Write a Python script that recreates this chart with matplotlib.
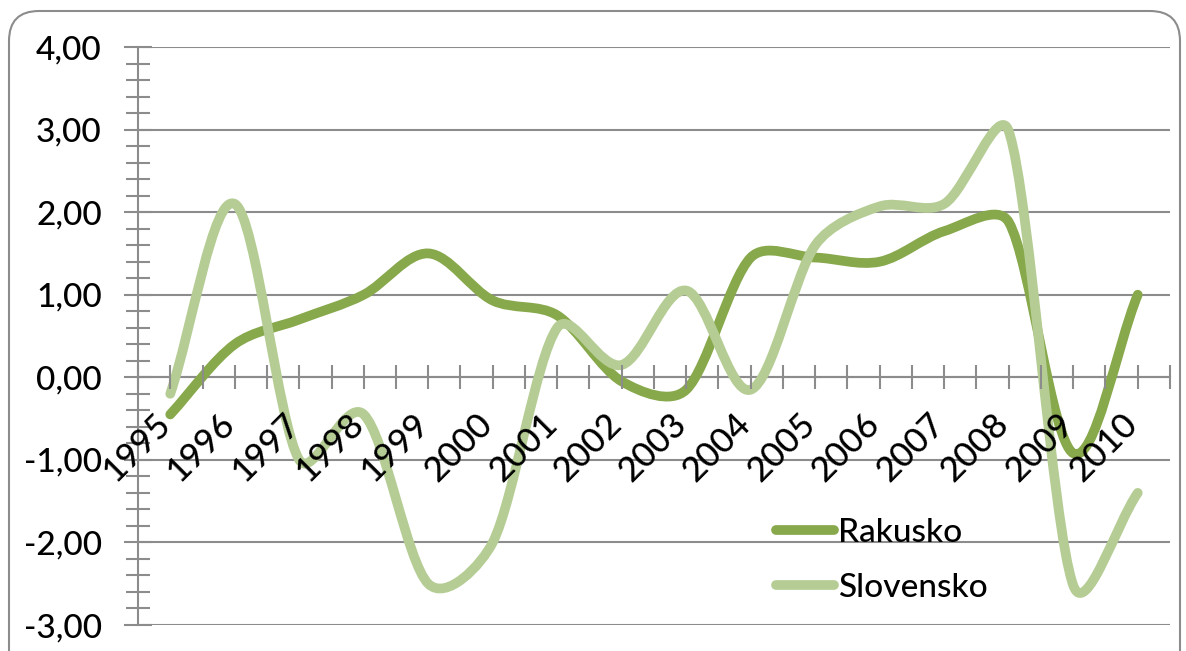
import matplotlib
matplotlib.use("Agg")
import matplotlib.pyplot as plt
import numpy as np
from matplotlib.path import Path
from matplotlib.patches import PathPatch, FancyBboxPatch
from matplotlib.lines import Line2D
from matplotlib.ticker import FuncFormatter, MultipleLocator
from matplotlib.transforms import ScaledTranslation

years = ["1995", "1996", "1997", "1998", "1999", "2000", "2001", "2002",
         "2003", "2004", "2005", "2006", "2007", "2008", "2009", "2010"]
rakusko = [-0.45, 0.40, 0.70, 1.00, 1.50, 0.93, 0.75, -0.05,
           -0.15, 1.45, 1.45, 1.40, 1.77, 1.88, -0.92, 1.00]
slovensko = [-0.20, 2.10, -1.00, -0.45, -2.50, -2.00, 0.60, 0.15,
             1.05, -0.15, 1.60, 2.07, 2.10, 2.98, -2.52, -1.40]

C_RAK = "#87a84b"
C_SLO = "#b5cd94"
GRID = "#8c8c8c"

plt.rcParams['font.family'] = ['Lato', 'DejaVu Sans']
plt.rcParams['font.weight'] = 500

W, H, DPI = 1186, 651, 100
L, R, T, B = 138, 1170, 47, 625
fig = plt.figure(figsize=(W / DPI, H / DPI), dpi=DPI)
ax = fig.add_axes([L / W, 1 - B / H, (R - L) / W, (B - T) / H])

# outer rounded frame
frame = FancyBboxPatch((0.09, -0.5), 11.71, 6.90,
                       boxstyle="round,pad=0,rounding_size=0.3",
                       transform=fig.dpi_scale_trans, fill=False,
                       edgecolor="#8c8c8c", linewidth=1.5, zorder=-10)
fig.patches.append(frame)

YMIN, YMAX = -3, 4
n = len(years)
SX = (R - L) / n              # pixels per category
SY = (B - T) / (YMAX - YMIN)  # pixels per unit


def smooth_path(xs, ys):
    """Smoothed line: Catmull-Rom Bezier segments (screen space), with the
    control arm clamped to 1/3 of the adjacent segment length."""
    p = np.column_stack([np.asarray(xs) * SX, np.asarray(ys) * SY]).astype(float)
    m = len(p)
    tang = []
    for i in range(m):
        a = p[i - 1] if i > 0 else p[i]
        b = p[i + 1] if i < m - 1 else p[i]
        tang.append((b - a) / 6.0 if 0 < i < m - 1 else (b - a) / 3.0)
    verts = [p[0]]
    codes = [Path.MOVETO]
    for i in range(m - 1):
        seg = np.hypot(*(p[i + 1] - p[i]))
        t1 = tang[i]
        t2 = tang[i + 1]
        l1 = np.hypot(*t1)
        l2 = np.hypot(*t2)
        if l1 > seg / 3.0:
            t1 = t1 * (seg / 3.0) / l1
        if l2 > seg / 3.0:
            t2 = t2 * (seg / 3.0) / l2
        verts += [p[i] + t1, p[i + 1] - t2, p[i + 1]]
        codes += [Path.CURVE4] * 3
    verts = np.array(verts)
    verts[:, 0] /= SX
    verts[:, 1] /= SY
    return Path(verts, codes)


x = np.arange(n)
LW = 7
for vals, col in [(rakusko, C_RAK), (slovensko, C_SLO)]:
    patch = PathPatch(smooth_path(x, vals), facecolor="none", edgecolor=col,
                      linewidth=LW, capstyle="round", joinstyle="round", zorder=3)
    ax.add_patch(patch)

ax.set_xlim(-0.5, n - 0.5)
ax.set_ylim(YMIN, YMAX)

FS = 24
# y axis
ax.yaxis.set_major_locator(MultipleLocator(1))
ax.yaxis.set_minor_locator(MultipleLocator(0.2))
ax.yaxis.set_major_formatter(FuncFormatter(lambda v, p: f"{v:.2f}".replace(".", ",")))
ax.grid(axis="y", which="major", color=GRID, linewidth=1.5, zorder=1)
ax.tick_params(axis="y", which="major", direction="inout", length=20, width=1.5,
               color=GRID, labelsize=FS, pad=16)
ax.tick_params(axis="y", which="minor", direction="inout", length=17, width=1.5,
               color=GRID)

# x axis at y=0
ax.spines["bottom"].set_position(("data", 0))
ax.set_xticks(x)
ax.set_xticklabels(years, rotation=45, ha="right", va="top")
ax.set_xticks(np.arange(-0.5, n, 1.0), minor=True)
ax.tick_params(axis="x", which="both", direction="inout", length=17, width=1.5,
               color=GRID, labelsize=FS + 1, pad=13)
for lab in ax.get_xticklabels():
    lab.set_transform(lab.get_transform() + ScaledTranslation(0.06, 0, fig.dpi_scale_trans))
ax.xaxis.set_zorder(5)

for s in ["top", "right"]:
    ax.spines[s].set_visible(False)
for s in ["left", "bottom"]:
    ax.spines[s].set_color(GRID)
    ax.spines[s].set_linewidth(1.5)
ax.set_facecolor("none")

handles = [Line2D([], [], color=C_RAK, lw=LW, solid_capstyle="round"),
           Line2D([], [], color=C_SLO, lw=LW, solid_capstyle="round")]
leg = ax.legend(handles, ["Rakusko", "Slovensko"], loc="upper left",
                bbox_to_anchor=(776 / W, 1 - 518 / H), bbox_transform=fig.transFigure,
                frameon=False, fontsize=FS, handlelength=1.75, handletextpad=0.1,
                labelspacing=0.75, borderaxespad=0, borderpad=0)

fig.savefig("out.png", dpi=DPI)
